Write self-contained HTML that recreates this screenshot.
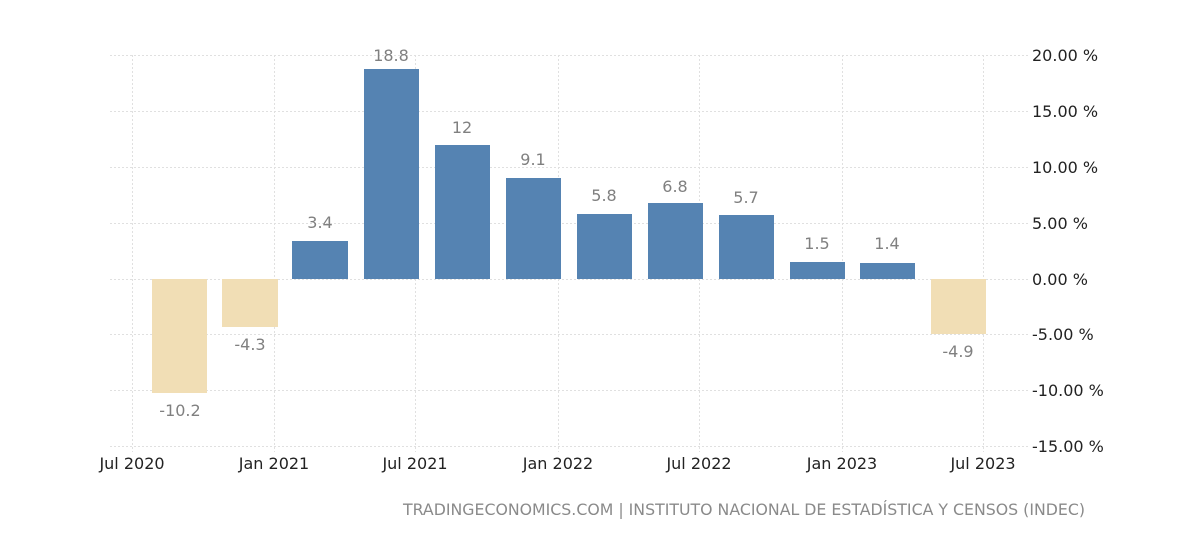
<!DOCTYPE html>
<html><head><meta charset="utf-8"><style>
body{margin:0;background:#fff;}
svg{display:block;font-family:"DejaVu Sans","Liberation Sans",sans-serif;}
</style></head><body>
<svg width="1195" height="549" viewBox="0 0 1195 549">
<g stroke="#e0e0e0" stroke-width="1" stroke-dasharray="2,2">
<line x1="110" y1="55.5" x2="1028" y2="55.5"/>
<line x1="110" y1="111.5" x2="1028" y2="111.5"/>
<line x1="110" y1="167.5" x2="1028" y2="167.5"/>
<line x1="110" y1="223.5" x2="1028" y2="223.5"/>
<line x1="110" y1="279.5" x2="1028" y2="279.5"/>
<line x1="110" y1="334.5" x2="1028" y2="334.5"/>
<line x1="110" y1="390.5" x2="1028" y2="390.5"/>
<line x1="110" y1="446.5" x2="1028" y2="446.5"/>
<line x1="132.5" y1="55" x2="132.5" y2="452"/>
<line x1="274.5" y1="55" x2="274.5" y2="452"/>
<line x1="415.5" y1="55" x2="415.5" y2="452"/>
<line x1="558.5" y1="55" x2="558.5" y2="452"/>
<line x1="699.5" y1="55" x2="699.5" y2="452"/>
<line x1="842.5" y1="55" x2="842.5" y2="452"/>
<line x1="983.5" y1="55" x2="983.5" y2="452"/>
</g>
<g fill="#f1deb5">
<rect x="152" y="279" width="55" height="114"/>
<rect x="222" y="279" width="56" height="48"/>
<rect x="931" y="279" width="55" height="55"/>
</g>
<g fill="#5583b2">
<rect x="292" y="241" width="56" height="38"/>
<rect x="364" y="69" width="55" height="210"/>
<rect x="435" y="145" width="55" height="134"/>
<rect x="506" y="178" width="55" height="101"/>
<rect x="577" y="214" width="55" height="65"/>
<rect x="648" y="203" width="55" height="76"/>
<rect x="719" y="215" width="55" height="64"/>
<rect x="790" y="262" width="55" height="17"/>
<rect x="860" y="263" width="55" height="16"/>
</g>
<g fill="#808080" font-size="16" text-anchor="middle">
<text x="180" y="416">-10.2</text>
<text x="250" y="350">-4.3</text>
<text x="320" y="228">3.4</text>
<text x="391" y="61">18.8</text>
<text x="462" y="133">12</text>
<text x="533" y="165">9.1</text>
<text x="604" y="201">5.8</text>
<text x="675" y="192">6.8</text>
<text x="746" y="203">5.7</text>
<text x="817" y="249">1.5</text>
<text x="887" y="249">1.4</text>
<text x="958" y="357">-4.9</text>
</g>
<g fill="#222" font-size="16">
<text x="1032" y="61">20.00 %</text>
<text x="1032" y="117">15.00 %</text>
<text x="1032" y="173">10.00 %</text>
<text x="1032" y="229">5.00 %</text>
<text x="1032" y="285">0.00 %</text>
<text x="1032" y="340">-5.00 %</text>
<text x="1032" y="396">-10.00 %</text>
<text x="1032" y="452">-15.00 %</text>
</g>
<g fill="#222" font-size="16" text-anchor="middle">
<text x="132" y="469">Jul 2020</text>
<text x="274" y="469">Jan 2021</text>
<text x="415" y="469">Jul 2021</text>
<text x="558" y="469">Jan 2022</text>
<text x="699" y="469">Jul 2022</text>
<text x="842" y="469">Jan 2023</text>
<text x="983" y="469">Jul 2023</text>
</g>
<text x="403" y="515" fill="#8a8a8a" font-size="16" textLength="682" lengthAdjust="spacingAndGlyphs">TRADINGECONOMICS.COM | INSTITUTO NACIONAL DE ESTADÍSTICA Y CENSOS (INDEC)</text>
</svg>
</body></html>
